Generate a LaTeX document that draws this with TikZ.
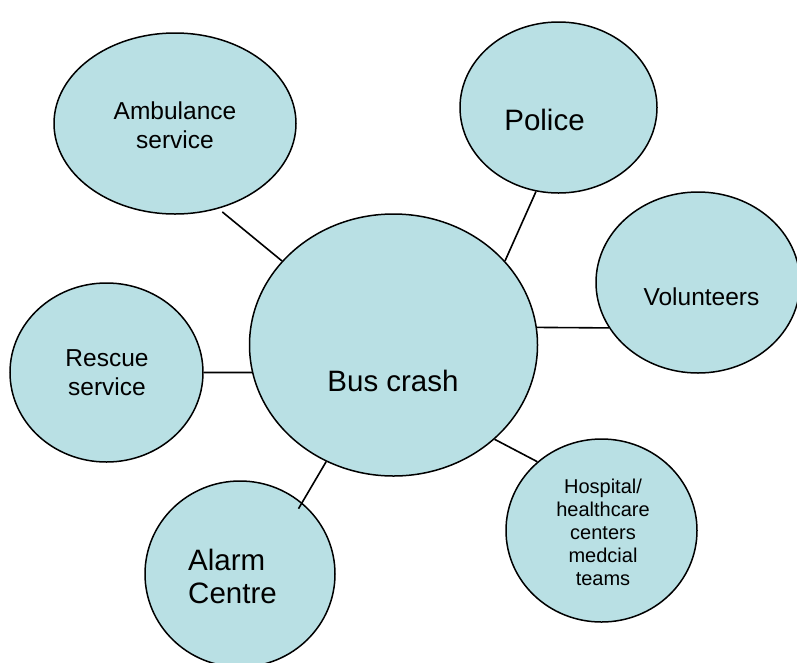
\documentclass[tikz,border=0pt]{standalone}
\usepackage{fontspec}
\setmainfont{Liberation Sans}
\usetikzlibrary{shapes.geometric}
\definecolor{bubble}{RGB}{185,224,228}
\tikzset{
  bub/.style={ellipse, draw=black, line width=1.5pt, fill=bubble, inner sep=0pt},
  conn/.style={draw=black, line width=1.6pt},
  smalltxt/.style={inner sep=0pt, align=center, font=\fontsize{20}{23}\selectfont},
  midtxt/.style={inner sep=0pt, align=center, font=\fontsize{24.5}{29.5}\selectfont},
  bigtxt/.style={inner sep=0pt, align=left, font=\fontsize{29.5}{33}\selectfont}
}
\begin{document}
\begin{tikzpicture}[x=1pt,y=-1pt]
\useasboundingbox (0,0) rectangle (797,662);
\clip (0,0) rectangle (797,662);
% bubbles
\node[bub, minimum width=288pt, minimum height=262pt] (bus) at (393.5,345) {};
\node[bub, minimum width=242pt, minimum height=181pt] (amb) at (175,123.5) {};
\node[bub, minimum width=197pt, minimum height=171pt] (pol) at (558.5,107.5) {};
\node[bub, minimum width=204pt, minimum height=181pt] (vol) at (698,282.5) {};
\node[bub, minimum width=193pt, minimum height=179pt] (res) at (106.5,372.5) {};
\node[bub, minimum width=190pt, minimum height=186pt] (alarm) at (240,574) {};
\node[bub, minimum width=191pt, minimum height=183pt] (hosp) at (601.5,530.5) {};
% connectors
\draw[conn, shorten <=5pt] (amb.-63.3) -- (bus.143.9);
\draw[conn] (pol.-105.1) -- (bus.37.4);
\draw[conn] (vol.-153.2) -- (bus.7.2);
\draw[conn] (res.0) -- (bus.-169.3);
\draw[conn, shorten <=-7pt] (alarm.49.7) -- (bus.-120.6);
\draw[conn] (hosp.133.25) -- (bus.-43.7);
% texts
\node[bigtxt] (busT) at (393,381) {Bus crash};
\node[midtxt] (ambT) at (175,125) {Ambulance\\service};
\node[bigtxt] (polT) at (544.5,120) {Police};
\node[midtxt] (volT) at (701.5,297) {Volunteers};
\node[midtxt] (resT) at (107,372.5) {Rescue\\service};
\node[bigtxt, anchor=west] (alarmT) at (188,576.5) {Alarm\\Centre};
\node[smalltxt] (hospT) at (603,532) {Hospital/\\healthcare\\centers\\medcial\\teams};
\end{tikzpicture}
\end{document}
